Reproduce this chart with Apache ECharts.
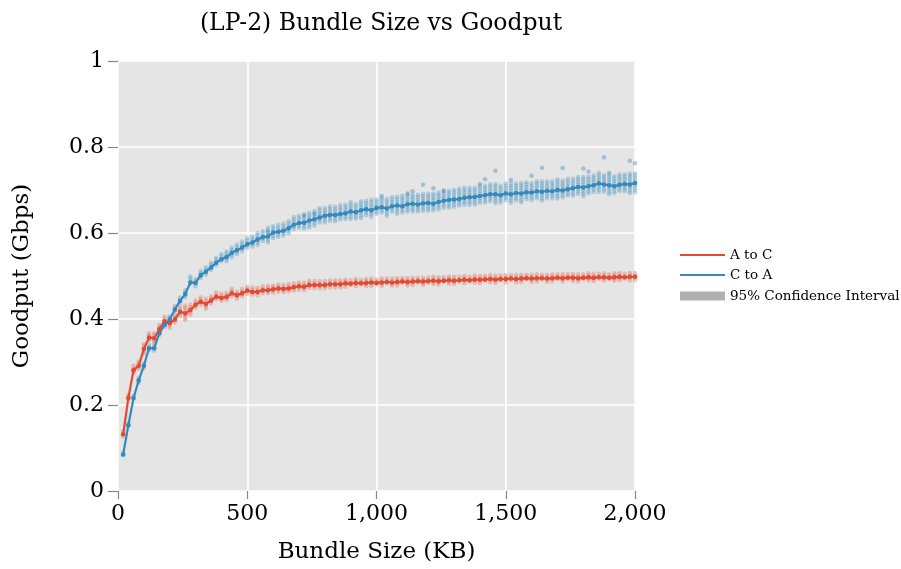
<!DOCTYPE html>
<html>
<head>
<meta charset="utf-8">
<script src="https://cdn.jsdelivr.net/npm/echarts@6/dist/echarts.min.js"></script>
<style>
  html, body { margin: 0; padding: 0; background: #fff; }
  #chart { width: 901px; height: 569px; }
</style>
</head>
<body>
<div id="chart"></div>
<script>
// Bundle sizes (KB)
const bundleSizes = [];
for (let kb = 20; kb <= 2000; kb += 20) bundleSizes.push(kb);

// Mean goodput (Gbps), A to C
const aToC = [
  0.132,0.216,0.281,0.291,0.330,0.357,0.355,0.376,0.395,0.390,
  0.399,0.417,0.413,0.421,0.433,0.440,0.435,0.443,0.452,0.449,
  0.451,0.460,0.455,0.460,0.466,0.463,0.463,0.467,0.467,0.469,
  0.471,0.470,0.471,0.474,0.476,0.475,0.479,0.479,0.479,0.479,
  0.481,0.481,0.481,0.483,
  0.482,0.484,0.483,0.484,0.485,0.484,0.485,0.486,0.485,0.486,
  0.487,0.486,0.487,0.488,0.487,0.488,0.489,0.488,0.489,0.490,
  0.489,0.490,0.491,0.490,0.492,0.491,0.492,0.493,0.492,0.493,
  0.493,0.494,0.493,0.494,0.495,0.494,0.495,0.495,0.494,0.495,
  0.496,0.495,0.496,0.496,0.495,0.496,0.497,0.496,0.497,0.497,
  0.496,0.497,0.498,0.497,0.498,0.498
];

// Mean goodput (Gbps), C to A
const cToA = [
  0.085,0.153,0.216,0.257,0.291,0.332,0.332,0.367,0.386,0.399,
  0.422,0.442,0.458,0.485,0.484,0.502,0.510,0.520,0.531,0.539,
  0.544,0.554,0.560,0.566,0.574,0.578,0.585,0.590,0.592,0.601,
  0.603,0.605,0.611,0.619,0.623,0.624,0.629,0.632,0.636,0.640,
  0.642,0.642,0.644,0.646,
  0.650,0.648,0.653,0.655,0.653,0.658,0.660,0.657,0.662,0.664,
  0.662,0.667,0.668,0.666,0.669,0.670,0.668,0.672,0.675,0.677,
  0.678,0.679,0.682,0.683,0.684,0.686,0.688,0.690,0.690,0.688,
  0.692,0.690,0.693,0.692,0.695,0.694,0.697,0.696,0.698,0.697,
  0.700,0.699,0.702,0.704,0.707,0.706,0.709,0.711,0.715,0.713,
  0.711,0.709,0.712,0.714,0.713,0.716
];

// Half-range of individual trials around the mean, A to C
const aToCSpread = [
  0.006,0.008,0.010,0.010,0.012,0.010,0.012,0.010,0.010,0.012,
  0.010,0.012,0.018,0.012,0.010,0.010,0.012,0.010,0.010,0.010,
  0.010,0.010,0.009,0.010,0.009,0.010,0.009,0.009,0.010,0.009,
  0.009,0.009,0.010,0.009,0.009,0.009,0.010,0.009,0.009,0.009,
  0.009,0.009,0.009,0.009,0.008,0.009,0.008,0.009,0.009,0.008,
  0.009,0.008,0.009,0.009,0.008,0.009,0.009,0.008,0.009,0.008,
  0.009,0.009,0.008,0.009,0.009,0.008,0.009,0.008,0.009,0.009,
  0.008,0.009,0.009,0.008,0.009,0.008,0.009,0.009,0.008,0.009,
  0.009,0.008,0.009,0.009,0.008,0.009,0.008,0.009,0.009,0.008,
  0.009,0.009,0.008,0.009,0.008,0.009,0.009,0.008,0.009,0.009
];

// Trial range below / above the mean, C to A
const cToADown = [
  0.004,0.005,0.005,0.006,0.006,0.006,0.006,0.006,0.007,0.006,
  0.007,0.007,0.008,0.008,0.008,0.009,0.009,0.010,0.010,0.010,
  0.011,0.012,0.011,0.012,0.013,0.012,0.013,0.013,0.014,0.013,
  0.014,0.015,0.014,0.015,0.016,0.015,0.016,0.015,0.017,0.016,
  0.017,0.016,0.017,0.018,0.018,0.017,0.019,0.018,0.018,0.019,
  0.018,0.019,0.018,0.020,0.019,0.018,0.020,0.019,0.020,0.019,
  0.020,0.021,0.019,0.020,0.021,0.020,0.019,0.021,0.020,0.021,
  0.020,0.021,0.022,0.020,0.021,0.020,0.022,0.021,0.020,0.022,
  0.021,0.022,0.020,0.021,0.022,0.021,0.020,0.022,0.021,0.022,
  0.021,0.020,0.022,0.021,0.022,0.021,0.020,0.022,0.021,0.022
];
const cToAUp = [
  0.004,0.005,0.005,0.006,0.006,0.007,0.006,0.007,0.007,0.007,
  0.008,0.008,0.009,0.014,0.009,0.010,0.010,0.011,0.011,0.012,
  0.013,0.012,0.013,0.014,0.014,0.013,0.015,0.014,0.020,0.015,
  0.016,0.017,0.016,0.018,0.017,0.020,0.018,0.019,0.022,0.018,
  0.020,0.019,0.021,0.020,0.022,0.019,0.021,0.020,0.024,0.020,
  0.021,0.022,0.021,0.020,0.025,0.022,0.021,0.023,0.022,0.021,
  0.024,0.022,0.023,0.021,0.022,0.024,0.023,0.022,0.021,0.023,
  0.022,0.023,0.024,0.022,0.023,0.025,0.022,0.024,0.023,0.022,
  0.023,0.024,0.022,0.023,0.025,0.023,0.024,0.022,0.023,0.024,
  0.022,0.023,0.025,0.022,0.024,0.023,0.024,0.022,0.025,0.023
];

// Isolated high trials, C to A: [bundle size KB, goodput Gbps]
const cToAOutliers = [
  [580,0.603],[720,0.640],[760,0.645],[1020,0.686],[1120,0.692],
  [1140,0.697],[1180,0.712],[1220,0.704],[1260,0.698],[1400,0.714],
  [1420,0.725],[1460,0.745],[1520,0.723],[1600,0.733],[1640,0.752],
  [1720,0.751],[1800,0.750],[1820,0.743],[1880,0.776],[1900,0.740],
  [1980,0.768],[2000,0.762]
];

const xTicks = [0, 500, 1000, 1500, 2000];

const RED = '#e24a33';
const BLUE = '#348abd';
const FONT = '"DejaVu Serif", "Liberation Serif", serif';

function pairs(ys) { return bundleSizes.map((x, i) => [x, ys[i]]); }

// Column of faint dots covering the trial range at one bundle size
function trialColumn(color, alpha) {
  return function (params, api) {
    const x = api.value(0), m = api.value(1);
    const lo = api.coord([x, m - api.value(2)]);
    const hi = api.coord([x, m + api.value(3)]);
    const children = [];
    for (let y = hi[1]; y <= lo[1] + 0.01; y += 2.4) {
      children.push({ type: 'circle', shape: { cx: hi[0], cy: y, r: 2.3 },
        style: { fill: color, opacity: alpha } });
    }
    return { type: 'group', children };
  };
}

const chart = echarts.init(document.getElementById('chart'), null, { renderer: 'canvas' });
chart.setOption({
  animation: false,
  backgroundColor: '#ffffff',
  title: {
    text: '(LP-2) Bundle Size vs Goodput',
    left: 376, top: 7, textAlign: 'center',
    textStyle: { fontFamily: FONT, fontSize: 23.5, fontWeight: 'normal', color: '#000' }
  },
  grid: { left: 118, right: 266, top: 61, bottom: 78, show: true,
          backgroundColor: '#e5e5e5', borderWidth: 0 },
  xAxis: {
    type: 'value', min: 0, max: 2000, interval: 500,
    name: 'Bundle Size (KB)', nameLocation: 'middle', nameGap: 50,
    nameTextStyle: { fontFamily: FONT, fontSize: 23, color: '#000' },
    axisLine: { show: false },
    axisTick: { show: true, length: 8, lineStyle: { color: '#888', width: 1.2 },
      customValues: xTicks },
    axisLabel: { fontFamily: FONT, fontSize: 22, color: '#000', margin: 12,
      customValues: xTicks,
      formatter: v => v.toLocaleString('en-US') },
    splitLine: { show: true, lineStyle: { color: '#ffffff', width: 1.5 } }
  },
  yAxis: {
    type: 'value', min: 0, max: 1, interval: 0.2,
    name: 'Goodput (Gbps)', nameLocation: 'middle', nameGap: 84,
    nameTextStyle: { fontFamily: FONT, fontSize: 23, color: '#000' },
    axisLine: { show: false },
    axisTick: { show: true, length: 10, lineStyle: { color: '#888', width: 1.2 } },
    axisLabel: { fontFamily: FONT, fontSize: 22, color: '#000', margin: 14,
      formatter: v => (v === 0 || v === 1) ? String(v) : v.toFixed(1) },
    splitLine: { show: true, lineStyle: { color: '#ffffff', width: 1.5 } }
  },
  legend: [
    {
      orient: 'vertical', left: 675, top: 243, itemWidth: 45, itemHeight: 2,
      itemGap: 6, icon: 'rect', selectedMode: false,
      data: ['A to C', 'C to A'],
      textStyle: { fontFamily: FONT, fontSize: 13.5, color: '#000', padding: [0, 0, 0, 0] }
    },
    {
      orient: 'vertical', left: 675, top: 284, itemWidth: 45, itemHeight: 9,
      icon: 'rect', selectedMode: false,
      data: ['95% Confidence Interval'],
      textStyle: { fontFamily: FONT, fontSize: 13.5, color: '#000', padding: [0, 0, 0, 0] }
    }
  ],
  series: [
    {
      name: 'A to C trials', type: 'custom', renderItem: trialColumn(RED, 0.28),
      data: bundleSizes.map((x, i) => [x, aToC[i], aToCSpread[i], aToCSpread[i]]),
      silent: true, z: 1
    },
    {
      name: 'C to A trials', type: 'custom', renderItem: trialColumn(BLUE, 0.3),
      data: bundleSizes.map((x, i) => [x, cToA[i], cToADown[i], cToAUp[i]]),
      silent: true, z: 1
    },
    {
      name: 'C to A outliers', type: 'scatter', data: cToAOutliers,
      symbolSize: 4.5, itemStyle: { color: BLUE, opacity: 0.4 }, silent: true, z: 1
    },
    {
      name: '95% Confidence Interval', type: 'line', data: [],
      itemStyle: { color: '#b0b0b0' }
    },
    {
      name: 'A to C', type: 'line', data: pairs(aToC),
      symbol: 'circle', symbolSize: 4.5, showSymbol: true,
      lineStyle: { color: RED, width: 2.2 }, itemStyle: { color: RED }, z: 3
    },
    {
      name: 'C to A', type: 'line', data: pairs(cToA),
      symbol: 'circle', symbolSize: 4.5, showSymbol: true,
      lineStyle: { color: BLUE, width: 2.2 }, itemStyle: { color: BLUE }, z: 3
    }
  ]
});
</script>
</body>
</html>
